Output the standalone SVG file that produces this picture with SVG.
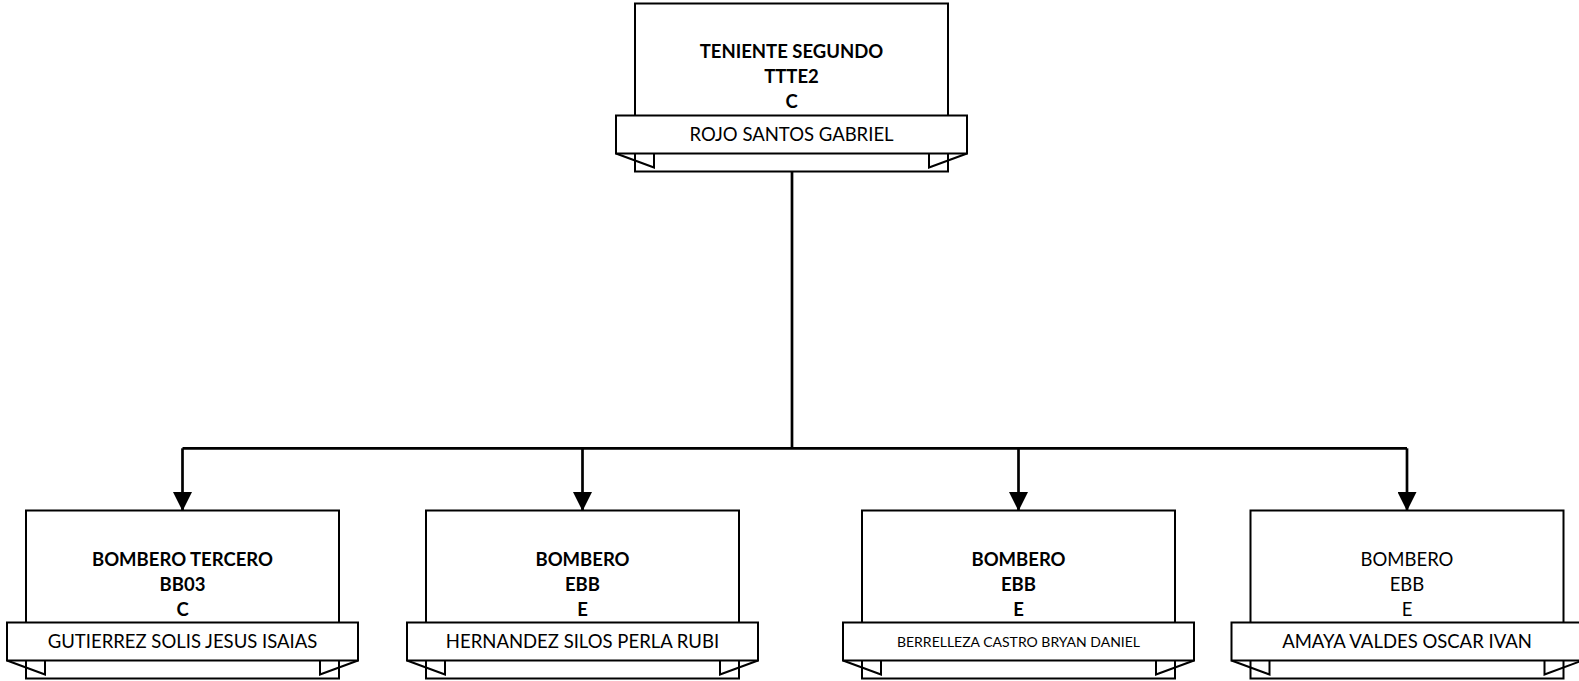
<svg xmlns="http://www.w3.org/2000/svg" width="1579" height="681" viewBox="0 0 1579 681">
<style>
.box{fill:#fff;stroke:#000;stroke-width:2}
.fold{fill:none;stroke:#000;stroke-width:2;stroke-linejoin:miter}
.ban{fill:#fff;stroke:#000;stroke-width:2}
.t{font-family:Lato,"Liberation Sans",sans-serif;font-size:18.5px;text-anchor:middle;fill:#000}
.b{font-weight:bold}
.sm{font-size:14px}
.con{fill:none;stroke:#000;stroke-width:2.7}
</style>
<defs>
<marker id="arr" markerUnits="userSpaceOnUse" markerWidth="19" markerHeight="19" viewBox="0 0 19 19" refX="19" refY="9.5" orient="auto">
<path d="M0,0 L19,9.5 L0,19 z" fill="#000"/>
</marker>
<g id="shape">
<rect class="box" x="0" y="0" width="313" height="168"/>
<path class="fold" d="M-19,150 L19,164 L19,150"/>
<path class="fold" d="M332,150 L294,164 L294,150"/>
<rect class="ban" x="-19" y="112" width="351" height="38"/>
</g>
</defs>
<g id="node-top" transform="translate(635,3.5)">
<use href="#shape"/>
<text class="t b" x="156.5" y="54.5">TENIENTE SEGUNDO</text>
<text class="t b" x="156.5" y="79">TTTE2</text>
<text class="t b" x="156.5" y="104">C</text>
<text class="t" x="156.5" y="137">ROJO SANTOS GABRIEL</text>
</g>
<g id="node-1" transform="translate(26,510.5)">
<use href="#shape"/>
<text class="t b" x="156.5" y="55">BOMBERO TERCERO</text>
<text class="t b" x="156.5" y="80">BB03</text>
<text class="t b" x="156.5" y="105">C</text>
<text class="t" x="156.5" y="137.5">GUTIERREZ SOLIS JESUS ISAIAS</text>
</g>
<g id="node-2" transform="translate(426,510.5)">
<use href="#shape"/>
<text class="t b" x="156.5" y="55">BOMBERO</text>
<text class="t b" x="156.5" y="80">EBB</text>
<text class="t b" x="156.5" y="105">E</text>
<text class="t" x="156.5" y="137.5">HERNANDEZ SILOS PERLA RUBI</text>
</g>
<g id="node-3" transform="translate(862,510.5)">
<use href="#shape"/>
<text class="t b" x="156.5" y="55">BOMBERO</text>
<text class="t b" x="156.5" y="80">EBB</text>
<text class="t b" x="156.5" y="105">E</text>
<text class="t sm" x="156.5" y="136">BERRELLEZA CASTRO BRYAN DANIEL</text>
</g>
<g id="node-4" transform="translate(1250.5,510.5)">
<use href="#shape"/>
<text class="t" x="156.5" y="55">BOMBERO</text>
<text class="t" x="156.5" y="80">EBB</text>
<text class="t" x="156.5" y="105">E</text>
<text class="t" x="156.5" y="137.5">AMAYA VALDES OSCAR IVAN</text>
</g>
<g id="connectors">
<path class="con" d="M792,172 V448.3"/>
<path class="con" d="M182.5,448.3 H1407"/>
<path class="con" d="M182.5,448.3 V511" marker-end="url(#arr)"/>
<path class="con" d="M582.5,448.3 V511" marker-end="url(#arr)"/>
<path class="con" d="M1018.5,448.3 V511" marker-end="url(#arr)"/>
<path class="con" d="M1407,448.3 V511" marker-end="url(#arr)"/>
</g>
</svg>
